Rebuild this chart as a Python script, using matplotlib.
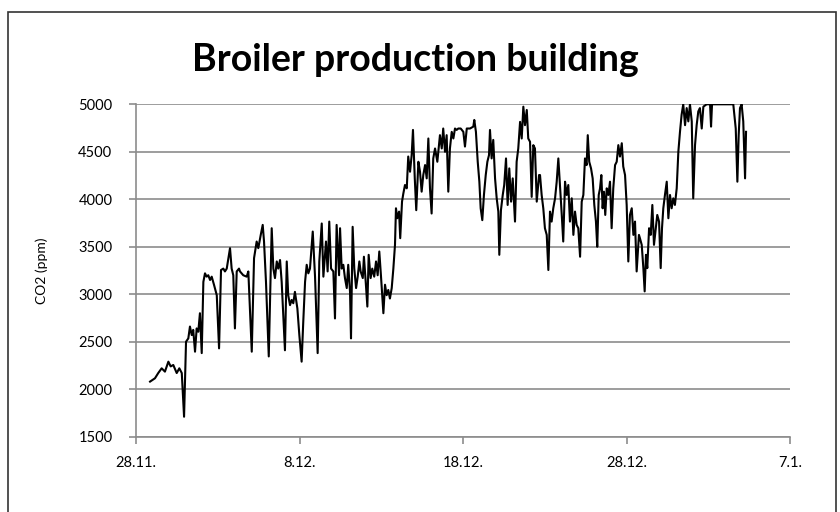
import matplotlib
matplotlib.use("Agg")
import matplotlib.pyplot as plt
from matplotlib.patches import Rectangle

# days counted from 28.11. and CO2 readings (ppm)
days = [
    0.86, 1.16, 1.36, 1.57, 1.77, 1.98, 2.12, 2.28, 2.49, 2.65, 2.80, 2.94, 3.06, 3.20,
    3.30, 3.41, 3.50, 3.61, 3.71, 3.81, 3.91, 4.02, 4.12, 4.22, 4.32, 4.42, 4.53, 4.63,
    4.77, 4.94, 5.08, 5.20, 5.34, 5.44, 5.55, 5.65, 5.75, 5.85, 5.95, 6.05, 6.16, 6.30,
    6.36, 6.56, 6.77, 6.87, 7.08, 7.22, 7.38, 7.48, 7.63, 7.75, 7.83, 7.95, 8.12, 8.30,
    8.40, 8.50, 8.61, 8.70, 8.81, 8.91, 9.11, 9.22, 9.31, 9.42, 9.52, 9.62, 9.72, 9.87,
    9.99, 10.13, 10.23, 10.34, 10.44, 10.54, 10.64, 10.81, 10.95, 11.11, 11.21, 11.36,
    11.46, 11.62, 11.72, 11.82, 11.93, 12.07, 12.17, 12.27, 12.42,
    12.48, 12.58, 12.68, 12.78, 12.89, 12.98, 13.09, 13.15, 13.25, 13.35, 13.46, 13.56,
    13.66, 13.74, 13.87, 13.94, 14.05, 14.15, 14.23, 14.35, 14.45, 14.57, 14.68, 14.78,
    14.88, 14.98, 15.13, 15.23, 15.33, 15.43, 15.53, 15.64, 15.74, 15.84, 15.90, 15.98,
    16.09, 16.16, 16.27, 16.35, 16.45, 16.56, 16.65, 16.76, 16.86, 16.94, 17.05, 17.14,
    17.27, 17.37, 17.47, 17.57, 17.68, 17.78, 17.88, 17.98, 18.08, 18.18, 18.29, 18.43,
    18.53,
    18.59, 18.70, 18.79, 18.90, 19.00, 19.10, 19.20, 19.31, 19.41, 19.51, 19.61, 19.71,
    19.86, 20.02, 20.12, 20.23, 20.43, 20.63, 20.69, 20.79, 20.90, 21.00, 21.08, 21.18,
    21.28, 21.39, 21.49, 21.59, 21.65, 21.75, 21.85, 21.96, 22.06, 22.16, 22.22, 22.32,
    22.43, 22.52, 22.63, 22.73, 22.83, 22.94, 23.04, 23.18, 23.28, 23.38, 23.49, 23.59,
    23.69, 23.79, 23.90, 23.99, 24.10, 24.20, 24.30, 24.40, 24.51, 24.65,
    24.71, 24.81, 24.91, 25.01, 25.12, 25.22, 25.32, 25.42, 25.52, 25.63, 25.73, 25.83,
    25.93, 26.04, 26.13, 26.24, 26.34, 26.44, 26.54, 26.65, 26.75, 26.85, 26.95, 27.05,
    27.16, 27.26, 27.36, 27.46, 27.56, 27.63, 27.72, 27.83, 27.93, 28.03, 28.13, 28.21,
    28.30, 28.38, 28.46, 28.54, 28.62, 28.70, 28.79, 28.89, 28.99, 29.09, 29.19, 29.30,
    29.40, 29.50, 29.60, 29.71, 29.80, 29.91, 30.01, 30.11, 30.21, 30.32, 30.42, 30.52,
    30.62, 30.76,
    30.82, 30.93, 31.03, 31.11, 31.19, 31.27, 31.38, 31.48, 31.58, 31.68, 31.79, 31.88,
    31.99, 32.09, 32.17, 32.25, 32.35, 32.46, 32.56, 32.66, 32.76, 32.86, 32.96, 33.07,
    33.17, 33.27, 33.37, 33.47, 33.58, 33.68, 33.78, 33.88, 33.99, 34.08, 34.19, 34.29,
    34.39, 34.49, 34.60, 34.70, 34.90, 35.11, 35.17, 35.23, 35.72, 36.13, 36.53, 36.68,
    36.78, 36.86, 36.94, 37.04, 37.14, 37.25, 37.31,
]
co2 = [
    2080, 2115, 2170, 2220, 2185, 2290, 2240, 2255, 2170, 2220, 2170, 1710, 2500, 2535,
    2660, 2570, 2625, 2395, 2640, 2605, 2800, 2380, 3130, 3220, 3185, 3200, 3150, 3185,
    3100, 2990, 2430, 3255, 3270, 3240, 3270, 3380, 3485, 3270, 3200, 2640, 3240, 3270,
    3240, 3200, 3185, 3240, 2395, 3380, 3555, 3485, 3625, 3730, 3555, 3130, 2345, 3695,
    3270, 3170, 3345, 3270, 3360, 3130, 2410, 3345, 2990, 2885, 2940, 2905, 3025, 2850,
    2570, 2290, 2710, 3130, 3310, 3220, 3270, 3660, 3185, 2380, 3345, 3745,
    3185, 3555, 3240, 3765, 3270, 3240, 2745, 3730, 3200,
    3695, 3270, 3310, 3170, 3065, 3310, 3025, 2535, 3710, 3270, 3065, 3185,
    3345, 3240, 3170, 3395, 3130, 2870, 3415, 3170, 3270, 3185, 3345, 3200,
    3450, 3200, 2800, 3100, 2990, 3045, 2955, 3065, 3270, 3520, 3905, 3800,
    3870, 3590, 3975, 4060, 4150, 4115, 4450, 4290, 4465, 4730, 4220, 3885,
    4395, 4290, 4080, 4255, 4360, 4220, 4640, 4115, 3850, 4430, 4535, 4395,
    4570,
    4675, 4535, 4745, 4500, 4675, 4080, 4535, 4710, 4640, 4745, 4730, 4745,
    4745, 4710, 4555, 4745, 4745, 4765, 4835, 4710, 4395, 4185, 3905, 3780,
    4045, 4255, 4395, 4465, 4730, 4430, 4625, 4220, 4010, 3870, 3415, 3885,
    4045, 4150, 4430, 3940, 4325, 3975, 4220, 3765, 4395, 4535, 4815, 4640,
    4975, 4780, 4940, 4640, 4605, 4025, 4570, 4535, 3975, 4255,
    4255, 4045, 3905, 3695, 3625, 3255, 3870, 3765, 3905, 4010, 4185, 4430,
    4150, 3835, 3555, 4185, 4045, 4150, 3765, 4010, 3625, 3870, 3730, 3695,
    3395, 3975, 4045, 4430, 4360, 4675, 4395, 4325, 4220, 3940, 3765, 3500,
    4045, 4115, 4255, 3905, 4080, 3835, 4115, 4045, 4185, 3695, 4115, 4360,
    4395, 4570, 4450, 4590, 4345, 4255, 3940, 3345, 3835, 3905, 3625, 3765,
    3240, 3625,
    3590, 3520, 3275, 3030, 3415, 3275, 3695, 3625, 3940, 3520, 3695, 3835,
    3765, 3275, 3695, 3905, 4045, 4185, 3800, 4045, 3905, 4010, 3940, 4115,
    4500, 4710, 4890, 5000, 4780, 4960, 4820, 5000, 4820, 4010, 4570, 4780,
    4925, 4960, 4745, 4975, 5000, 5000, 4765, 5000, 5000, 5000, 5000, 4745,
    4185, 4675, 4960, 5000, 4820, 4220, 4710,
]

tick_days = [0, 10, 20, 30, 40]
tick_labels = ["28.11.", "8.12.", "18.12.", "28.12.", "7.1."]
y_ticks = [1500, 2000, 2500, 3000, 3500, 4000, 4500, 5000]

plt.rcParams["font.family"] = ["Lato", "DejaVu Sans"]

fig = plt.figure(figsize=(8.4, 5.12), dpi=100)
ax = fig.add_axes([0.1619, 0.1471, 0.7786, 0.6492])

ax.plot(days, co2, color="black", linewidth=1.5)

ax.set_xlim(0, 40)
ax.set_ylim(1500, 5000)
ax.set_xticks(tick_days)
ax.set_xticklabels(tick_labels)
ax.set_yticks(y_ticks)
ax.yaxis.grid(True, color="#8c8c8c", linewidth=1.2)
ax.set_axisbelow(True)

for s in ["top", "right"]:
    ax.spines[s].set_visible(False)
for s in ["left", "bottom"]:
    ax.spines[s].set_color("#8c8c8c")
    ax.spines[s].set_linewidth(1.2)
ax.tick_params(axis="both", colors="#8c8c8c", labelcolor="black", labelsize=10.5,
               length=5, width=1.2)
ax.tick_params(axis="x", pad=9)
ax.tick_params(axis="y", pad=12)

ax.set_ylabel("CO2 (ppm)", fontsize=10, labelpad=22)
fig.text(0.494, 0.883, "Broiler production building", ha="center", va="center",
         fontsize=27, fontweight="bold")

# outer chart border
fig.patches.append(Rectangle((8 / 840, -0.05), 828 / 840, 1.05 - 12 / 512,
                             transform=fig.transFigure, fill=False,
                             edgecolor="#333333", linewidth=1.2))

fig.savefig("out.png", dpi=100)
